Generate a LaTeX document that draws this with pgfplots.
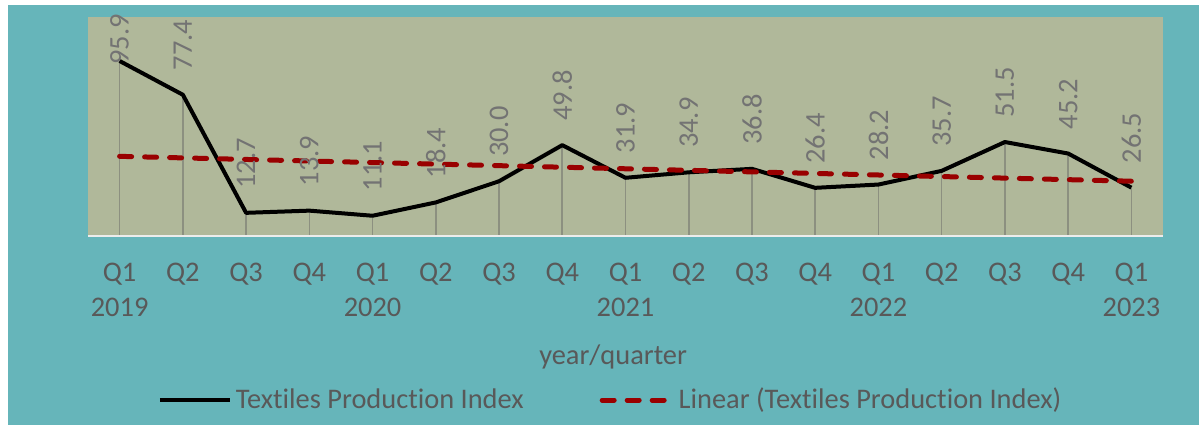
\documentclass[border=0pt]{standalone}
\usepackage{pgfplots}
\usepackage{pgfplotstable}
\pgfplotsset{compat=1.18}
\usepackage{fontspec}
\setmainfont{Carlito}[Ligatures=NoCommon]

\definecolor{bgteal}{HTML}{66B5BA}
\definecolor{plotbg}{HTML}{B0B89A}
\definecolor{txtgray}{HTML}{595959}
\definecolor{lblgray}{HTML}{737373}
\definecolor{dropgray}{HTML}{8C9080}
\definecolor{trendred}{HTML}{990000}

\newcommand\chartfont{\fontsize{14.2}{17.5}\selectfont}

% Textiles production index, Q1 2019 .. Q1 2023
\pgfplotstableread{
x y
0 95.9
1 77.4
2 12.7
3 13.9
4 11.1
5 18.4
6 30.0
7 49.8
8 31.9
9 34.9
10 36.8
11 26.4
12 28.2
13 35.7
14 51.5
15 45.2
16 26.5
}\tpi

\begin{document}
\begin{tikzpicture}
\useasboundingbox (0,0) rectangle (599.5pt,212.5pt);
\fill[white] (0,0) rectangle (599.5pt,212.5pt);
\fill[bgteal] (4pt,0) rectangle (599.5pt,210pt);
\begin{axis}[
  at={(44pt,94.5pt)}, anchor=south west,
  scale only axis, width=537.5pt, height=109.5pt,
  xmin=-0.5, xmax=16.5, ymin=0, ymax=120,
  axis line style={draw=none},
  axis background/.style={fill=plotbg},
  ytick=\empty,
  xtick={0,...,16},
  xticklabels={{Q1\\2019},Q2,Q3,Q4,{Q1\\2020},Q2,Q3,Q4,{Q1\\2021},Q2,Q3,Q4,{Q1\\2022},Q2,Q3,Q4,{Q1\\2023}},
  major tick length=0pt,
  xticklabel style={align=center, anchor=north, yshift=-10pt, text=txtgray, font=\chartfont},
  xlabel={year/quarter},
  xlabel style={at={(axis description cs:0.4885,-0.553)}, anchor=center, text=txtgray, font=\chartfont},
  clip=false,
  legend columns=2,
  legend style={at={(0.487,-0.749)}, anchor=center, draw=none, fill=none,
    font=\chartfont, text=txtgray,
    /tikz/every even column/.append style={column sep=36pt}},
  legend image code/.code={\draw[#1] (0pt,0pt) -- (35pt,0pt);},
  /pgf/number format/assume math mode=true,
]
\addplot[ycomb, dropgray, line width=0.8pt, no marks, forget plot] table[x=x,y=y]{\tpi};
\addplot[black, line width=2pt, no marks, line join=round] table[x=x,y=y]{\tpi};
% data labels
\addplot[draw=none, no marks, forget plot,
  nodes near coords={\pgfmathprintnumber[fixed,fixed zerofill,precision=1]{\pgfplotspointmeta}},
  every node near coord/.append style={rotate=90, anchor=west, inner xsep=12pt, inner ysep=0pt,
    text=lblgray, font=\chartfont}]
  table[x=x,y=y,skip coords between index={0}{1}]{\tpi};
\addplot[draw=none, no marks, forget plot,
  nodes near coords={\pgfmathprintnumber[fixed,fixed zerofill,precision=1]{\pgfplotspointmeta}},
  every node near coord/.append style={rotate=90, anchor=west, inner xsep=0pt, inner ysep=0pt,
    xshift=-2pt, text=lblgray, font=\chartfont}]
  table[x=x,y=y,skip coords between index={1}{17}]{\tpi};
\addplot[trendred, line width=2.5pt, line cap=round, dash pattern=on 6pt off 6.5pt, no marks]
  table[x=x, y={create col/linear regression={y=y}}]{\tpi};
\draw[white!85!gray, line width=0.8pt] (rel axis cs:0,0) -- (rel axis cs:1,0);
\legend{Textiles Production Index, Linear (Textiles Production Index)}
\end{axis}
\end{tikzpicture}
\end{document}
